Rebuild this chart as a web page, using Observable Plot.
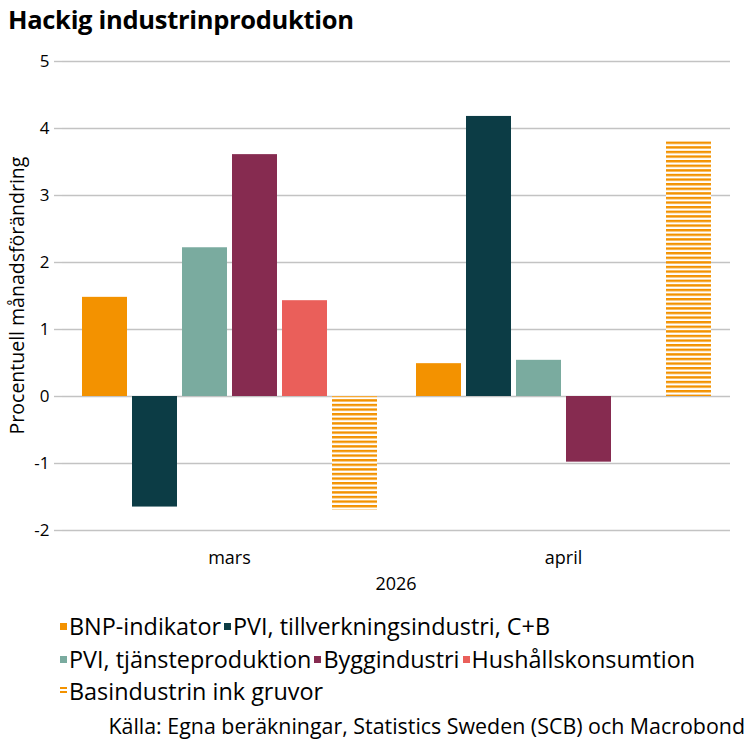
<!DOCTYPE html>
<html><head><meta charset="utf-8">
<script src="https://cdn.jsdelivr.net/npm/d3@7"></script>
<script src="https://cdn.jsdelivr.net/npm/@observablehq/plot@0.6"></script>
<style>
body{margin:0;background:#fff;font-family:"Open Sans",sans-serif;color:#000;}
#wrap{width:756px;height:756px;position:relative;overflow:hidden;}
#title{position:absolute;left:8px;top:2px;font-weight:700;font-size:25.5px;letter-spacing:-0.3px;}
#chart{position:absolute;left:0;top:45px;}
#legend{position:absolute;left:60px;top:605px;font-size:23.4px;line-height:32.5px;}
.row{white-space:nowrap;height:32.5px;}
.item{display:inline-flex;align-items:center;margin-right:3px;}
.sw{display:inline-block;width:7px;height:7px;margin-right:2px;}
#caption{position:absolute;right:11px;top:711px;font-size:21.4px;}
</style></head>
<body><div id="wrap">
<div id="title">Hackig industrinproduktion</div>
<div id="chart"></div>
<div id="legend"></div>
<div id="caption">Källa: Egna beräkningar, Statistics Sweden (SCB) och Macrobond</div>
</div>
<script>
const months = ["mars", "april"];
const seriesNames = ["BNP-indikator", "PVI, tillverkningsindustri, C+B", "PVI, tjänsteproduktion", "Byggindustri", "Hushållskonsumtion", "Basindustrin ink gruvor"];
const seriesColors = ["#F39200", "#0C3C45", "#7AAB9F", "#862B50", "#EA5F5A", "url(#stripes)"];
const bnp = [1.48, 0.49];
const pviTillv = [-1.65, 4.18];
const pviTjanst = [2.22, 0.54];
const bygg = [3.61, -0.98];
const hushall = [1.43, null];
const basind = [-1.70, 3.82];
const yTicks = [-2, -1, 0, 1, 2, 3, 4, 5];
const legendRows = [[0, 1], [2, 3, 4], [5]];

const values = [bnp, pviTillv, pviTjanst, bygg, hushall, basind];
const data = seriesNames.flatMap((s, i) => months.map((m, j) => ({month: m, series: s, value: values[i][j]})))
  .filter(d => d.value != null);

const chart = Plot.plot({
  width: 756, height: 555,
  marginLeft: 62, marginRight: 26, marginTop: 16, marginBottom: 70,
  style: {fontFamily: "Open Sans", fontSize: "18px", color: "#000", background: "#fff"},
  fx: {domain: months, padding: 0},
  x: {domain: seriesNames, paddingInner: 0.1, paddingOuter: 0.35, axis: null},
  y: {domain: [-2, 5]},
  color: {domain: seriesNames, range: seriesColors},
  marks: [
    Plot.gridY(yTicks, {stroke: "#c3c3c3", strokeOpacity: 1, strokeWidth: 1.4}),
    Plot.axisY(yTicks, {tickSize: 8, tickPadding: 5, stroke: "#c3c3c3", strokeWidth: 1.4, fontSize: 17,
      label: null, tickFormat: d => String(d)}),
    Plot.barY(data, {fx: "month", x: "series", y: "value", fill: "series"}),
    Plot.axisFx({anchor: "bottom", tickSize: 0, tickPadding: 21, fontSize: 18, label: null})
  ]
});
const svg = d3.select(chart);
const defs = svg.insert("defs", ":first-child");
const pat = defs.append("pattern").attr("id", "stripes").attr("patternUnits", "userSpaceOnUse")
  .attr("width", 10).attr("height", 4.6);
pat.append("rect").attr("width", 10).attr("height", 4.6).attr("fill", "#fff");
pat.append("rect").attr("width", 10).attr("height", 2.4).attr("fill", "#F39200");
// axis titles
svg.append("text").attr("transform", "translate(24,250.5) rotate(-90)").attr("text-anchor", "middle")
  .attr("font-size", 19.5).attr("fill", "#000").text("Procentuell månadsförändring");
svg.append("text").attr("x", 396).attr("y", 545).attr("text-anchor", "middle")
  .attr("font-size", 18).attr("fill", "#000").text("2026");
document.getElementById("chart").appendChild(chart);

const legend = d3.select("#legend");
legendRows.forEach(row => {
  const r = legend.append("div").attr("class", "row");
  row.forEach(i => {
    const it = r.append("span").attr("class", "item");
    const sw = it.append("span").attr("class", "sw");
    if (i === 5) sw.style("background", "repeating-linear-gradient(to bottom,#F39200 0 2px,#fff 2px 4px)").style("height","8px");
    else sw.style("background", seriesColors[i]);
    it.append("span").text(seriesNames[i]);
  });
});
</script>
</body></html>
